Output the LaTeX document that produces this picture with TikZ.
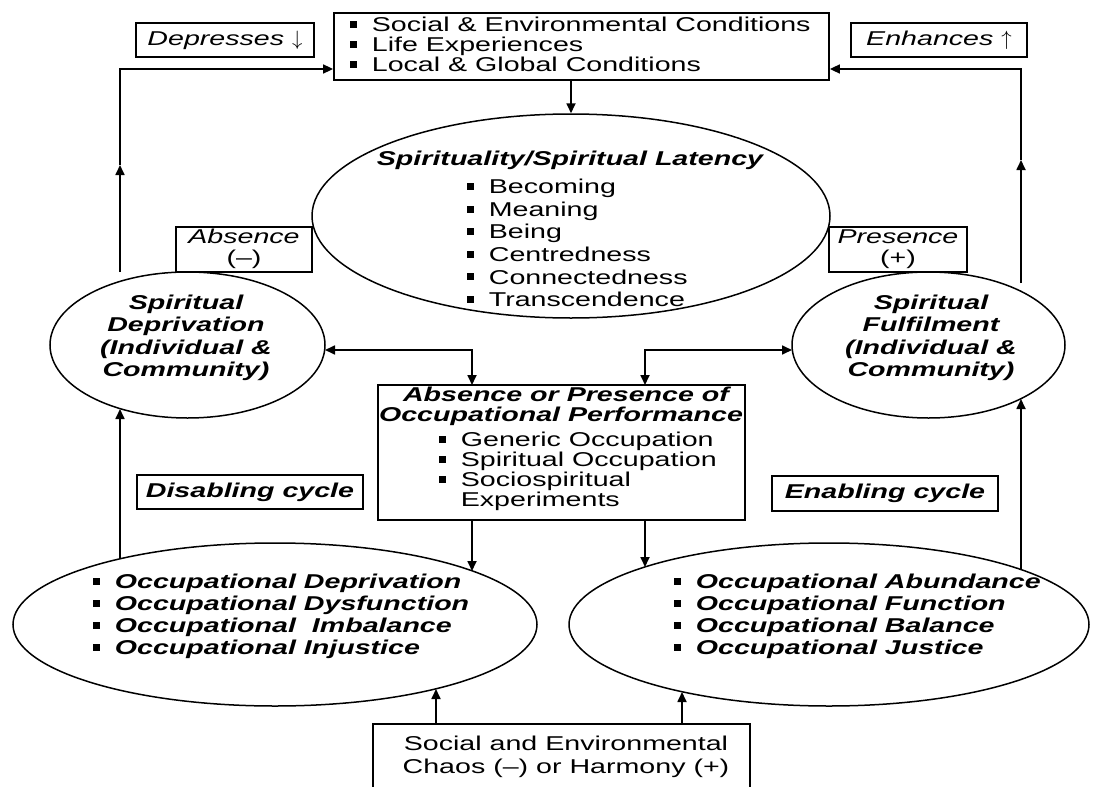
\documentclass[tikz,border=0pt]{standalone}
\usepackage{fontspec}
\setmainfont{Liberation Sans}[FakeStretch=1.43]
\usetikzlibrary{shapes.geometric,arrows.meta}
\newcommand\bul{\rule[0.18em]{7pt}{7pt}\hspace{15pt}}
\begin{document}
\begin{tikzpicture}[x=1pt,y=-1pt,
  font=\fontsize{20}{23}\selectfont,
  line width=1.7pt,
  box/.style={draw, rectangle, inner sep=0pt, line width=1.8pt},
  ell/.style={draw, ellipse, inner sep=0pt, line width=1.5pt},
  ln/.style={inner sep=0pt, anchor=west, text height=0.72em, text depth=0pt},
  lc/.style={inner sep=0pt, anchor=center, text height=0.72em, text depth=0pt},
  bi/.style={font=\fontsize{20}{23}\selectfont\bfseries\itshape},
  it/.style={font=\fontsize{20}{23}\selectfont\itshape},
  arr/.style={-{Triangle[length=10pt,width=9pt]}},
  arrs/.style={{Triangle[length=10pt,width=9pt]}-{Triangle[length=10pt,width=9pt]}}]
\useasboundingbox (0,0) rectangle (1096,787);
\fill[white] (0,0) rectangle (1096,787);

% top box
\node[box, minimum width=495pt, minimum height=67pt] (top) at (581.5,46.5) {};
\node[ln] (t1) at (349,28) {\bul Social \& Environmental Conditions};
\node[ln] (t2) at (349,48) {\bul Life Experiences};
\node[ln] (t3) at (349,68) {\bul Local \& Global Conditions};

\node[box, it, minimum width=178pt, minimum height=34pt] (dep) at (225,40) {Depresses\ $\downarrow$};
\node[box, it, minimum width=176pt, minimum height=34pt] (enh) at (939,40) {Enhances\ $\uparrow$};

% central ellipse
\node[ell, minimum width=518pt, minimum height=204pt] (cel) at (571,216) {};
\node[lc, bi] (celt) at (570,162) {Spirituality/Spiritual Latency};
\node[ln] (c1) at (466,190) {\bul Becoming};
\node[ln] (c2) at (466,212.6) {\bul Meaning};
\node[ln] (c3) at (466,235.2) {\bul Being};
\node[ln] (c4) at (466,257.8) {\bul Centredness};
\node[ln] (c5) at (466,280.4) {\bul Connectedness};
\node[ln] (c6) at (466,303) {\bul Transcendence};

% absence / presence
\node[box, minimum width=136pt, minimum height=45pt] (abs) at (244,249.5) {};
\node[lc, it] (abs1) at (244,240) {Absence};
\node[lc] (abs2) at (244,261) {(–)};
\node[box, minimum width=138pt, minimum height=45pt] (pres) at (898,249.5) {};
\node[lc, it] (pres1) at (898,240) {Presence};
\node[lc] (pres2) at (898,261) {(+)};

% spiritual deprivation / fulfilment
\node[ell, minimum width=275pt, minimum height=146pt] (sd) at (187.5,345) {};
\node[lc, bi] (sd1) at (186,306) {Spiritual};
\node[lc, bi] (sd2) at (186,328) {Deprivation};
\node[lc, bi] (sd3) at (186,350.5) {(Individual \&};
\node[lc, bi] (sd4) at (186,373) {Community)};
\node[ell, minimum width=273pt, minimum height=146pt] (sf) at (928.5,345) {};
\node[lc, bi] (sf1) at (931,306) {Spiritual};
\node[lc, bi] (sf2) at (931,328) {Fulfilment};
\node[lc, bi] (sf3) at (931,350.5) {(Individual \&};
\node[lc, bi] (sf4) at (931,373) {Community)};

% centre box
\node[box, minimum width=367pt, minimum height=135pt] (cb) at (561.5,452.5) {};
\node[lc, bi] (cbt1) at (566,398) {Absence or Presence of};
\node[lc, bi] (cbt2) at (561,418) {Occupational Performance};
\node[ln] (cb1) at (438,443) {\bul Generic Occupation};
\node[ln] (cb2) at (438,463) {\bul Spiritual Occupation};
\node[ln] (cb3) at (438,483) {\bul Sociospiritual};
\node[ln] (cb4) at (460,503) {Experiments};

% cycle labels
\node[box, bi, minimum width=226pt, minimum height=34pt] (dis) at (250,492) {Disabling cycle};
\node[box, bi, minimum width=226pt, minimum height=35pt] (ena) at (885,493.5) {Enabling cycle};

% bottom ellipses
\node[ell, minimum width=524pt, minimum height=163pt] (bl) at (275,624.5) {};
\node[ln, bi] (bl1) at (92,585) {\bul Occupational Deprivation};
\node[ln, bi] (bl2) at (92,607) {\bul Occupational Dysfunction};
\node[ln, bi] (bl3) at (92,629) {\bul Occupational\ \ Imbalance};
\node[ln, bi] (bl4) at (92,651) {\bul Occupational Injustice};
\node[ell, minimum width=520pt, minimum height=163pt] (br) at (829,624.5) {};
\node[ln, bi] (br1) at (673,585) {\bul Occupational Abundance};
\node[ln, bi] (br2) at (673,607) {\bul Occupational Function};
\node[ln, bi] (br3) at (673,629) {\bul Occupational Balance};
\node[ln, bi] (br4) at (673,651) {\bul Occupational Justice};

% bottom box
\node[box, minimum width=377pt, minimum height=80pt] (bb) at (561.5,764) {};
\node[lc] (bb1) at (566,747) {Social and Environmental};
\node[lc] (bb2) at (566,770) {Chaos (–) or Harmony (+)};

% coordinates for connector ends
\coordinate (yA) at (0,69);
\coordinate (L1) at (120,272);
\coordinate (L2) at (120,165);
\coordinate (L3) at (120,69);
\coordinate (R1) at (1021,283);
\coordinate (R2) at (1021,160);
\coordinate (R3) at (1021,69);
\coordinate (L4) at (120,559);
\coordinate (L5) at (120,409);
\coordinate (R4) at (1021,569);
\coordinate (R5) at (1021,399);
\coordinate (SDr) at (325,350);
\coordinate (SFl) at (792,350);
\coordinate (CBa) at (472,385);
\coordinate (CBb) at (645,385);
\coordinate (CBc) at (472,520);
\coordinate (CBd) at (645,520);
\coordinate (BLt) at (472,571);
\coordinate (BRt) at (645,567);
\coordinate (BBa) at (436,724);
\coordinate (BBb) at (682,724);
\coordinate (BLb) at (436,689);
\coordinate (BRb) at (682,692);

% connectors
\draw[arr] (top.south -| cel.north) -- (cel.north);
\draw[arr] (L1) -- (L2);
\draw[arr] (L2) -- (L3) -- (top.west |- yA);
\draw[arr] (R1) -- (R2);
\draw[arr] (R2) -- (R3) -- (top.east |- yA);
\draw[arr] (L4) -- (L5);
\draw[arr] (R4) -- (R5);
\draw[arrs] (SDr) -| (CBa);
\draw[arrs] (SFl) -| (CBb);
\draw[arr] (CBc) -- (BLt);
\draw[arr] (CBd) -- (BRt);
\draw[arr] (BBa) -- (BLb);
\draw[arr] (BBb) -- (BRb);
\end{tikzpicture}
\end{document}
